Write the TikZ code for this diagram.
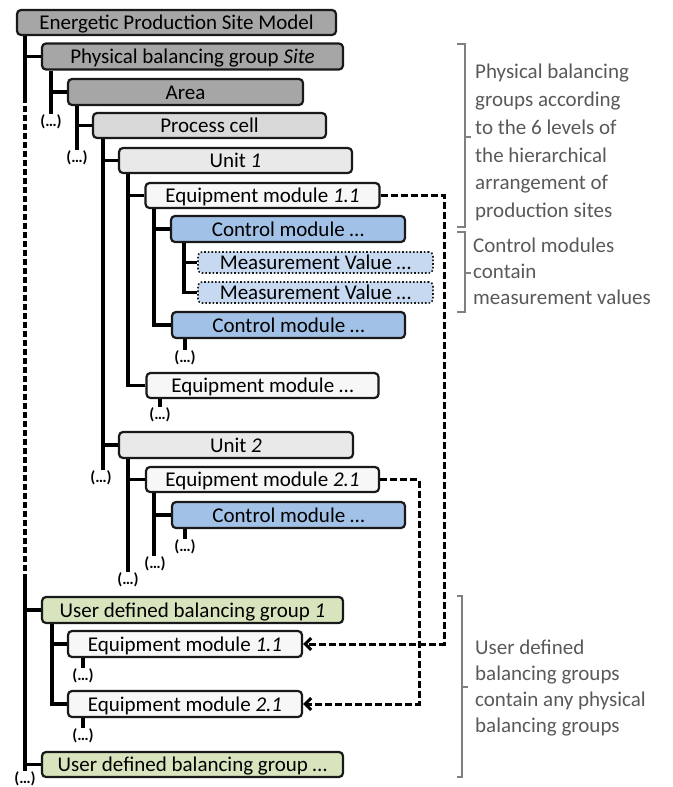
\documentclass[tikz,border=0pt]{standalone}
\usepackage{fontspec}
\setmainfont{Carlito}
\usetikzlibrary{arrows.meta,calc}

\definecolor{fillDark}{HTML}{A6A6A6}
\definecolor{fillMid}{HTML}{D9D9D9}
\definecolor{fillLight}{HTML}{E9E9E9}
\definecolor{fillWhite}{HTML}{F7F7F7}
\definecolor{fillCM}{HTML}{A2C1E6}
\definecolor{fillMV}{HTML}{C6D9F1}
\definecolor{fillUD}{HTML}{D8E4BE}
\definecolor{noteGray}{HTML}{595959}
\definecolor{braceGray}{HTML}{7F7F7F}

\begin{document}
\begin{tikzpicture}[x=1pt,y=-1pt,
  box/.style={draw=black!90, line width=2.2pt, rounded corners=4pt,
    inner sep=0pt, text height=18pt, text depth=4pt,
    font=\fontsize{21}{24}\selectfont},
  mvbox/.style={box, line width=1.6pt, dotted},
  tree/.style={draw=black, line width=3.2pt},
  dots/.style={inner sep=0.5pt, font=\fontsize{16}{17}\selectfont\bfseries},
  link/.style={draw=black, line width=3pt, dash pattern=on 7pt off 3pt},
  brace/.style={draw=braceGray, line width=1.4pt},
  note/.style={anchor=west, align=left, text=noteGray, inner sep=0pt}
]
\useasboundingbox (0,0) rectangle (672,787);

% ---- boxes of the hierarchy ----
\node[box, fill=fillDark, minimum width=319pt, minimum height=25pt] (ep) at (176.5,22.5) {Energetic Production Site Model};
\node[box, fill=fillDark, minimum width=301pt, minimum height=26pt] (site) at (192.5,56.5) {Physical balancing group \textit{Site}};
\node[box, fill=fillDark, minimum width=235pt, minimum height=26pt] (area) at (185.5,92) {Area};
\node[box, fill=fillMid, minimum width=233pt, minimum height=25pt] (proc) at (209.5,125.5) {Process cell};
\node[box, fill=fillLight, minimum width=233pt, minimum height=25pt] (unit1) at (235.5,160.5) {Unit \textit{1}};
\node[box, fill=fillWhite, minimum width=234pt, minimum height=25pt] (em11) at (262.5,195.5) {Equipment module \textit{1.1}};
\node[box, fill=fillCM, minimum width=234pt, minimum height=26pt] (cm1) at (288,229) {Control module \dots};
\node[mvbox, fill=fillMV, minimum width=235pt, minimum height=21pt, text height=17pt] (mv1) at (315.5,262.5) {Measurement Value \dots};
\node[mvbox, fill=fillMV, minimum width=235pt, minimum height=21pt, text height=17pt] (mv2) at (315.5,292.5) {Measurement Value \dots};
\node[box, fill=fillCM, minimum width=233pt, minimum height=26pt] (cm2) at (288.5,325) {Control module \dots};
\node[box, fill=fillWhite, minimum width=232pt, minimum height=25pt] (emx) at (262.5,385.5) {Equipment module \dots};
\node[box, fill=fillLight, minimum width=234pt, minimum height=26pt] (unit2) at (236,445) {Unit \textit{2}};
\node[box, fill=fillWhite, minimum width=233pt, minimum height=25pt] (em21) at (262.5,479.5) {Equipment module \textit{2.1}};
\node[box, fill=fillCM, minimum width=233pt, minimum height=26pt] (cm3) at (288.5,515) {Control module \dots};
\node[box, fill=fillUD, minimum width=301pt, minimum height=26pt] (ud1) at (192.5,610) {User defined balancing group \textit{1}};
\node[box, fill=fillWhite, minimum width=234pt, minimum height=26pt] (uem11) at (185,644) {Equipment module \textit{1.1}};
\node[box, fill=fillWhite, minimum width=234pt, minimum height=26pt] (uem21) at (185,704) {Equipment module \textit{2.1}};
\node[box, fill=fillUD, minimum width=301pt, minimum height=25pt] (udx) at (192.5,764.5) {User defined balancing group \dots};

% ---- continuation marks ----
\node[dots] (dS)   at (51,122)  {(…)};
\node[dots] (dA)   at (77,158)  {(…)};
\node[dots] (dP)   at (101,478) {(…)};
\node[dots] (dC2)  at (185,358) {(…)};
\node[dots] (dEx)  at (160,415) {(…)};
\node[dots] (dU2)  at (128,580) {(…)};
\node[dots] (dE2)  at (155,564) {(…)};
\node[dots] (dC3)  at (185,547) {(…)};
\node[dots] (dU11) at (83,676)  {(…)};
\node[dots] (dU21) at (83,736)  {(…)};
\node[dots] (dM)   at (25,779)  {(…)};

% ---- trunk positions ----
\coordinate (tM)  at (25,0);
\coordinate (m1)  at (25,97);
\coordinate (m2)  at (25,575);
\coordinate (tS)  at (51,0);
\coordinate (tA)  at (77,0);
\coordinate (tP)  at (103,0);
\coordinate (tU1) at (128,0);
\coordinate (tE1) at (154,0);
\coordinate (tC1) at (184,0);
\coordinate (tU2) at (128,0);
\coordinate (tE2) at (154,0);
\coordinate (tUD) at (52,0);
\coordinate (xA)  at (444,0);
\coordinate (xB)  at (419,0);

% main trunk
\draw[tree] (ep.south -| tM) -- (m1);
\draw[tree, dash pattern=on 6pt off 3pt] (m1) -- (m2);
\draw[tree] (m2) -- (dM.north);
\draw[tree] (site.west -| tM) -- (site.west);
\draw[tree] (ud1.west -| tM) -- (ud1.west);
\draw[tree] (udx.west -| tM) -- (udx.west);

% physical groups
\draw[tree] (site.south -| tS) -- (dS.north);
\draw[tree] (area.west -| tS) -- (area.west);
\draw[tree] (area.south -| tA) -- (dA.north);
\draw[tree] (proc.west -| tA) -- (proc.west);
\draw[tree] (proc.south -| tP) -- (dP.north -| tP);
\draw[tree] (unit1.west -| tP) -- (unit1.west);
\draw[tree] (unit2.west -| tP) -- (unit2.west);

% unit 1
\draw[tree] (unit1.south -| tU1) |- (emx.west);
\draw[tree] (em11.west -| tU1) -- (em11.west);
\draw[tree] (em11.south -| tE1) |- (cm2.west);
\draw[tree] (cm1.west -| tE1) -- (cm1.west);
\draw[tree] (cm1.south -| tC1) |- (mv2.west);
\draw[tree] (mv1.west -| tC1) -- (mv1.west);
\draw[tree] (dC2.north |- cm2.south) -- (dC2.north);
\draw[tree] (dEx.north |- emx.south) -- (dEx.north);

% unit 2
\draw[tree] (unit2.south -| tU2) -- (dU2.north);
\draw[tree] (em21.west -| tU2) -- (em21.west);
\draw[tree] (em21.south -| tE2) -- (dE2.north -| tE2);
\draw[tree] (cm3.west -| tE2) -- (cm3.west);
\draw[tree] (dC3.north |- cm3.south) -- (dC3.north);

% user defined group 1
\draw[tree] (ud1.south -| tUD) |- (uem21.west);
\draw[tree] (uem11.west -| tUD) -- (uem11.west);
\draw[tree] (dU11.north |- uem11.south) -- (dU11.north);
\draw[tree] (dU21.north |- uem21.south) -- (dU21.north);

% references into the user defined group
\draw[link, -{Straight Barb[length=6pt,width=12pt]}] (em11.east) -- (em11.east -| xA) -- (uem11.east -| xA) -- (uem11.east);
\draw[link, -{Straight Barb[length=6pt,width=12pt]}] (em21.east) -- (em21.east -| xB) -- (uem21.east -| xB) -- (uem21.east);

% ---- brackets and notes ----
\draw[brace] (457,44) -- (465,44) -- (465,227) -- (457,227);
\draw[brace] (465,137) -- (471,137);
\node[note, font=\fontsize{21}{27.8}\selectfont] (n1) at (475,142.5)
  {Physical balancing\\groups according\\to the 6 levels of\\the hierarchical\\arrangement of\\production sites};

\draw[brace] (457,232) -- (465,232) -- (465,312) -- (457,312);
\draw[brace] (465,273) -- (471,273);
\node[note, font=\fontsize{21}{26}\selectfont] (n2) at (473,271)
  {Control modules\\contain\\measurement values};

\draw[brace] (457,596) -- (462,596) -- (462,777) -- (457,777);
\draw[brace] (462,687) -- (468,687);
\node[note, font=\fontsize{21}{26}\selectfont] (n3) at (475,688.5)
  {User defined\\balancing groups\\contain any physical\\balancing groups};
\end{tikzpicture}
\end{document}
